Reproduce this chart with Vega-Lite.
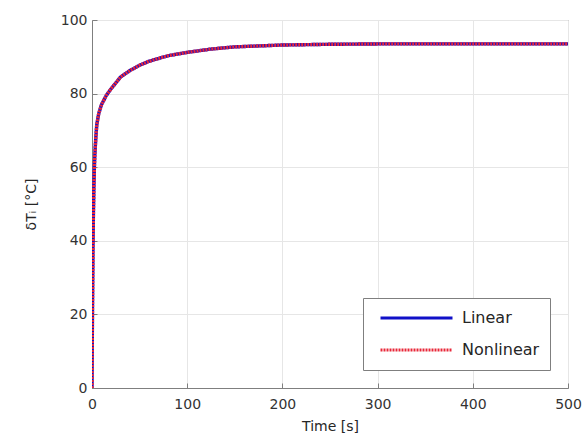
{
  "$schema": "https://vega.github.io/schema/vega-lite/v6.json",
  "width": 476,
  "height": 368,
  "autosize": "none",
  "padding": {"left": 92, "top": 20, "right": 17, "bottom": 58},
  "background": "white",
  "config": {
    "font": "DejaVu Sans",
    "view": {"stroke": "#7f7f7f", "strokeWidth": 1},
    "axis": {
      "labelFont": "DejaVu Sans",
      "titleFont": "DejaVu Sans",
      "labelFontSize": 14,
      "titleFontSize": 14,
      "labelColor": "#333333",
      "titleColor": "#262626",
      "titleFontWeight": "normal",
      "domainColor": "#7f7f7f",
      "tickColor": "#7f7f7f",
      "tickSize": -5,
      "labelFlush": false,
      "gridColor": "#e6e6e6",
      "gridWidth": 1
    }
  },
  "data": {
    "values": [
      {"t": 0, "v": 0, "s": "Linear"},
      {"t": 0.5, "v": 22, "s": "Linear"},
      {"t": 1, "v": 38, "s": "Linear"},
      {"t": 1.5, "v": 48, "s": "Linear"},
      {"t": 2, "v": 55, "s": "Linear"},
      {"t": 2.5, "v": 60, "s": "Linear"},
      {"t": 3, "v": 63.5, "s": "Linear"},
      {"t": 4, "v": 68, "s": "Linear"},
      {"t": 5, "v": 71.5, "s": "Linear"},
      {"t": 7, "v": 74.5, "s": "Linear"},
      {"t": 10, "v": 77, "s": "Linear"},
      {"t": 15, "v": 79.5, "s": "Linear"},
      {"t": 20, "v": 81.3, "s": "Linear"},
      {"t": 30, "v": 84.5, "s": "Linear"},
      {"t": 40, "v": 86.3, "s": "Linear"},
      {"t": 50, "v": 87.7, "s": "Linear"},
      {"t": 60, "v": 88.8, "s": "Linear"},
      {"t": 80, "v": 90.3, "s": "Linear"},
      {"t": 100, "v": 91.2, "s": "Linear"},
      {"t": 125, "v": 92.1, "s": "Linear"},
      {"t": 150, "v": 92.7, "s": "Linear"},
      {"t": 200, "v": 93.2, "s": "Linear"},
      {"t": 250, "v": 93.4, "s": "Linear"},
      {"t": 300, "v": 93.5, "s": "Linear"},
      {"t": 400, "v": 93.5, "s": "Linear"},
      {"t": 500, "v": 93.5, "s": "Linear"},
      {"t": 0, "v": 0, "s": "Nonlinear"},
      {"t": 0.5, "v": 22, "s": "Nonlinear"},
      {"t": 1, "v": 38, "s": "Nonlinear"},
      {"t": 1.5, "v": 48, "s": "Nonlinear"},
      {"t": 2, "v": 55, "s": "Nonlinear"},
      {"t": 2.5, "v": 60, "s": "Nonlinear"},
      {"t": 3, "v": 63.5, "s": "Nonlinear"},
      {"t": 4, "v": 68, "s": "Nonlinear"},
      {"t": 5, "v": 71.5, "s": "Nonlinear"},
      {"t": 7, "v": 74.5, "s": "Nonlinear"},
      {"t": 10, "v": 77, "s": "Nonlinear"},
      {"t": 15, "v": 79.5, "s": "Nonlinear"},
      {"t": 20, "v": 81.3, "s": "Nonlinear"},
      {"t": 30, "v": 84.5, "s": "Nonlinear"},
      {"t": 40, "v": 86.3, "s": "Nonlinear"},
      {"t": 50, "v": 87.7, "s": "Nonlinear"},
      {"t": 60, "v": 88.8, "s": "Nonlinear"},
      {"t": 80, "v": 90.3, "s": "Nonlinear"},
      {"t": 100, "v": 91.2, "s": "Nonlinear"},
      {"t": 125, "v": 92.1, "s": "Nonlinear"},
      {"t": 150, "v": 92.7, "s": "Nonlinear"},
      {"t": 200, "v": 93.2, "s": "Nonlinear"},
      {"t": 250, "v": 93.4, "s": "Nonlinear"},
      {"t": 300, "v": 93.5, "s": "Nonlinear"},
      {"t": 400, "v": 93.5, "s": "Nonlinear"},
      {"t": 500, "v": 93.5, "s": "Nonlinear"}
    ]
  },
  "mark": {"type": "line", "strokeWidth": 3.4, "clip": true},
  "encoding": {
    "x": {
      "field": "t", "type": "quantitative",
      "scale": {"domain": [0, 500], "nice": false},
      "axis": {"values": [0, 100, 200, 300, 400, 500], "title": "Time [s]", "labelPadding": 14, "titlePadding": 8}
    },
    "y": {
      "field": "v", "type": "quantitative",
      "scale": {"domain": [0, 100], "nice": false},
      "axis": {"values": [0, 20, 40, 60, 80, 100], "title": "δTᵢ [°C]", "labelPadding": 10, "titlePadding": 22}
    },
    "color": {
      "field": "s", "type": "nominal",
      "scale": {"domain": ["Linear", "Nonlinear"], "range": ["#1010c8", "#e8283a"]},
      "legend": {
        "title": null,
        "orient": "none",
        "legendX": 271,
        "legendY": 278,
        "fillColor": "white",
        "strokeColor": "#7f7f7f",
        "padding": 10,
        "symbolType": "stroke",
        "symbolSize": 5184,
        "symbolStrokeWidth": 3,
        "clipHeight": 20,
        "labelFontSize": 16,
        "labelColor": "#262626",
        "labelFont": "DejaVu Sans",
        "rowPadding": 12,
        "labelOffset": 8,
        "symbolOffset": 6
      }
    },
    "strokeDash": {
      "field": "s", "type": "nominal",
      "scale": {"domain": ["Linear", "Nonlinear"], "range": [[1, 0], [2, 1]]},
      "legend": null
    },
    "order": {"field": "t", "type": "quantitative"}
  }
}
